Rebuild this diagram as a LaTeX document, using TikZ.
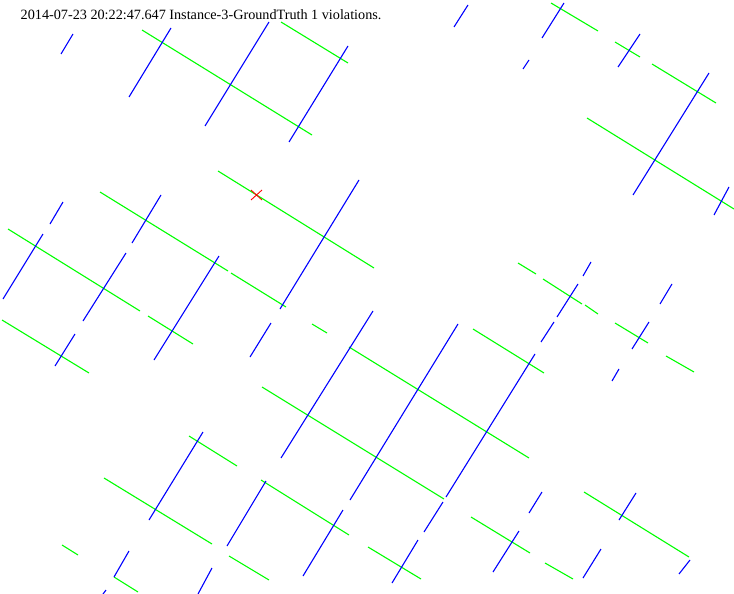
\documentclass[tikz,border=0pt]{standalone}
\usepackage{fontspec}
\setmainfont{Liberation Serif}

\tikzset{
  bluebar/.style={draw=blue, line width=1.1pt},
  greenbar/.style={draw=green, line width=1.1pt},
  violmark/.style={draw=red, line width=0.9pt}
}

\begin{document}
\begin{tikzpicture}[x=1pt, y=-1pt]
    \useasboundingbox (0,0) rectangle (734,594);

    % Header
    \node[anchor=base west, inner sep=0pt, font=\fontsize{14.2}{16}\selectfont] (title) at (20.5,19.5)
        {2014-07-23 20:22:47.647 Instance-3-GroundTruth 1 violations.};

    % Green segments
    \foreach \xa/\ya/\xb/\yb in {142/30/312/135, 281/22/348/63, 551/3/598/31, 615/42/640/57,
        652/64/716/103, 587/118/734/209, 218/171/374/268, 100/192/228/271, 231/273/286/307,
        8/229/140/311, 148/316/193/344, 2/320/89/373, 312/324/327/333, 349/347/529/458,
        473/329/544/373, 518/263/536/274, 543/279/582/304, 585/305/598/314, 615/323/648/343,
        666/356/694/372, 189/436/237/466, 104/478/212/544, 229/556/269/580, 62/545/78/555,
        114/577/138/592, 262/387/444/499, 261/480/349/535, 368/547/421/579, 471/517/530/553,
        545/563/573/579, 584/492/689/557}
        \draw[greenbar] (\xa,\ya) -- (\xb,\yb);

    % Blue segments
    \foreach \xa/\ya/\xb/\yb in {73/34/61/54, 171/28/129/97, 269/22/205/126, 348/46/289/142,
        468/5/454/27, 564/3/542/38, 529/60/523/69, 640/34/618/67, 709/73/633/195,
        729/187/714/215, 359/180/280/309, 161/195/132/243, 63/202/50/224, 43/234/3/299,
        126/253/83/321, 219/256/154/360, 75/334/55/366, 271/323/250/357, 373/311/281/458,
        458/324/350/500, 591/262/583/276, 578/284/557/317, 554/322/541/342, 672/284/660/304,
        649/322/632/349, 619/369/612/381, 535/354/446/497, 203/432/149/520, 266/481/227/546,
        129/551/114/577, 106/590/103/594, 212/568/198/594, 343/510/303/576, 418/540/392/583,
        443/502/424/532, 542/492/529/513, 519/531/493/572, 601/549/583/578, 636/493/619/520,
        690/560/679/574}
        \draw[bluebar] (\xa,\ya) -- (\xb,\yb);

    % Violation
    \coordinate (viol) at (256.5,195);
    \draw[violmark] ([shift={(-5.5,-5)}]viol) -- ([shift={(5.5,5)}]viol)
                    ([shift={(5.5,-5)}]viol) -- ([shift={(-5.5,5)}]viol);
\end{tikzpicture}
\end{document}
